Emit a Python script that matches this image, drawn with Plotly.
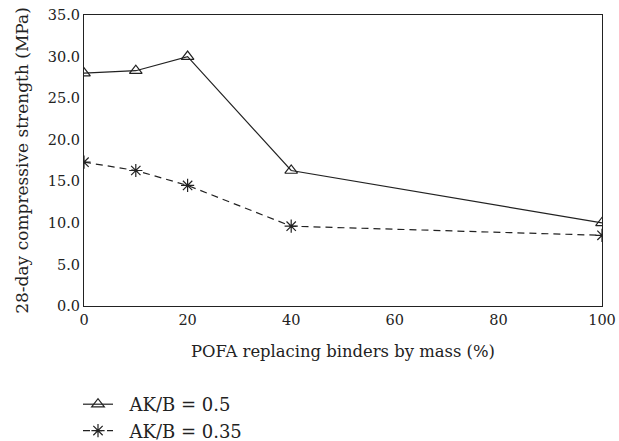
import plotly.graph_objects as go

pofa = [0, 10, 20, 40, 100]
s05 = [28.0, 28.3, 30.0, 16.3, 10.0]
s035 = [17.3, 16.3, 14.5, 9.6, 8.5]
names = ["AK/B = 0.5", "AK/B = 0.35"]
yticks = [0, 5, 10, 15, 20, 25, 30, 35]
xticks = [0, 20, 40, 60, 80, 100]

font = "DejaVu Serif, serif"
ink = "#222"
pad = "\u00a0\u00a0"
fig = go.Figure()
fig.add_trace(go.Scatter(x=pofa, y=s05, name=pad + names[0], mode="lines+markers",
                         line=dict(color=ink, width=1.2),
                         marker=dict(symbol="triangle-up-open", size=11, color=ink, line=dict(width=1.2))))
fig.add_trace(go.Scatter(x=pofa, y=s035, name=pad + names[1], mode="lines+markers",
                         line=dict(color=ink, width=1.2, dash="7px,5px"),
                         marker=dict(symbol="asterisk-open", size=11, color=ink, line=dict(width=1.2))))

fig.update_layout(
    width=619, height=441,
    margin=dict(l=84, r=17, t=15, b=135, autoexpand=False),
    paper_bgcolor="white", plot_bgcolor="white",
    font=dict(family=font, size=15, color=ink),
    showlegend=True,
    legend=dict(x=(78 - 84) / 518, y=(306 - 386) / 291,
                xanchor="left", yanchor="top", font=dict(size=18, color=ink),
                tracegroupgap=0, itemwidth=30, borderwidth=0, bgcolor="rgba(0,0,0,0)"),
)
fig.update_xaxes(range=[0, 100], tickvals=xticks, ticktext=[str(v) for v in xticks],
                 showline=True, linecolor=ink, linewidth=1.2, mirror=True,
                 ticks="", showgrid=False, zeroline=False, automargin=False,
                 title=dict(text="POFA replacing binders by mass (%)", standoff=19, font=dict(size=16.4)),
                 tickfont=dict(size=14.5))
fig.update_yaxes(range=[0, 35], tickvals=yticks, ticktext=[f"{v:.1f}" for v in yticks],
                 showline=True, linecolor=ink, linewidth=1.2, mirror=True,
                 ticks="", showgrid=False, zeroline=False, automargin=False,
                 title=dict(text="28-day compressive strength (MPa)", standoff=14, font=dict(size=17)),
                 tickfont=dict(size=14.5))
fig.write_html("out.html")
